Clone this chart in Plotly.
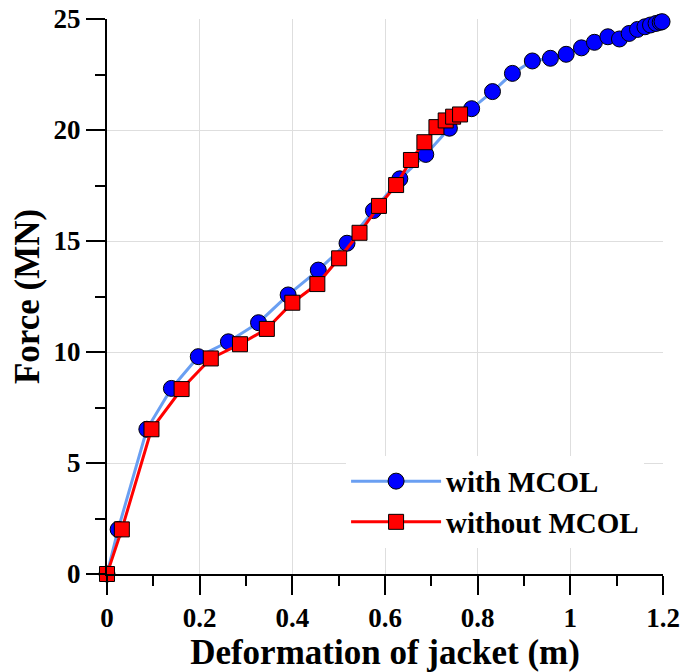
import plotly.graph_objects as go

# with MCOL
x_with = [0, 0.024, 0.086, 0.139, 0.197, 0.262, 0.327, 0.391, 0.456, 0.518, 0.575,
          0.632, 0.688, 0.739, 0.787, 0.832, 0.875, 0.918, 0.957, 0.991, 1.024,
          1.052, 1.081, 1.106, 1.127, 1.145, 1.161, 1.173, 1.185, 1.194, 1.198]
y_with = [0, 2.01, 6.52, 8.36, 9.79, 10.46, 11.32, 12.57, 13.69, 14.9, 16.37,
          17.8, 18.9, 20.08, 20.96, 21.73, 22.55, 23.11, 23.23, 23.41, 23.7,
          23.95, 24.2, 24.1, 24.35, 24.53, 24.65, 24.73, 24.8, 24.85, 24.88]

# without MCOL
x_without = [0, 0.032, 0.096, 0.161, 0.224, 0.287, 0.345, 0.400, 0.454, 0.501,
             0.545, 0.587, 0.624, 0.656, 0.685, 0.711, 0.731, 0.747, 0.762]
y_without = [0, 2.01, 6.52, 8.33, 9.71, 10.35, 11.04, 12.22, 13.06, 14.22,
             15.37, 16.58, 17.52, 18.65, 19.45, 20.13, 20.43, 20.6, 20.7]

x_ticks = [0, 0.2, 0.4, 0.6, 0.8, 1, 1.2]
x_ticklabels = ["0", "0.2", "0.4", "0.6", "0.8", "1", "1.2"]
y_ticks = [0, 5, 10, 15, 20, 25]

FONT = "Liberation Serif"

fig = go.Figure()
fig.add_trace(go.Scatter(
    x=x_with, y=y_with, mode="lines+markers", name="with MCOL",
    line=dict(color="#6A9FF2", width=3),
    marker=dict(symbol="circle", size=16, color="#0000FF",
                line=dict(color="black", width=1)),
    cliponaxis=False,
))
fig.add_trace(go.Scatter(
    x=x_without, y=y_without, mode="lines+markers", name="without MCOL",
    line=dict(color="#FF0000", width=3),
    marker=dict(symbol="square", size=15, color="#FF0000",
                line=dict(color="black", width=1)),
    cliponaxis=False,
))

axis_common = dict(
    showline=True, linecolor="black", linewidth=2,
    ticks="outside", ticklen=19, tickwidth=2, tickcolor="black",
    showgrid=True, gridcolor="#DEDEDE", gridwidth=1,
    zeroline=False, automargin=False,
    tickfont=dict(family=FONT, size=27, color="black", weight="bold"),
)

fig.update_xaxes(
    range=[0, 1.2], tickvals=x_ticks, ticktext=x_ticklabels,
    minor=dict(dtick=0.1, ticks="outside", ticklen=10, tickwidth=2,
               tickcolor="black", showgrid=False),
    title=dict(text="Deformation of jacket (m)", standoff=4,
               font=dict(family=FONT, size=35, color="black", weight="bold")),
    **axis_common,
)
fig.update_yaxes(
    range=[0, 25], tickvals=y_ticks,
    minor=dict(dtick=2.5, ticks="outside", ticklen=10, tickwidth=2,
               tickcolor="black", showgrid=False),
    title=dict(text="Force (MN)", standoff=3,
               font=dict(family=FONT, size=35, color="black", weight="bold")),
    **axis_common,
)

fig.update_layout(
    width=681, height=672,
    margin=dict(l=107, r=18, t=19, b=98),
    plot_bgcolor="white", paper_bgcolor="white",
    showlegend=True,
    legend=dict(
        x=0.43, y=0.213, xanchor="left", yanchor="top",
        bgcolor="white", borderwidth=0,
        font=dict(family=FONT, size=29, color="black", weight="bold"),
        itemwidth=90, tracegroupgap=0,
    ),
)

fig.write_html("out.html")
